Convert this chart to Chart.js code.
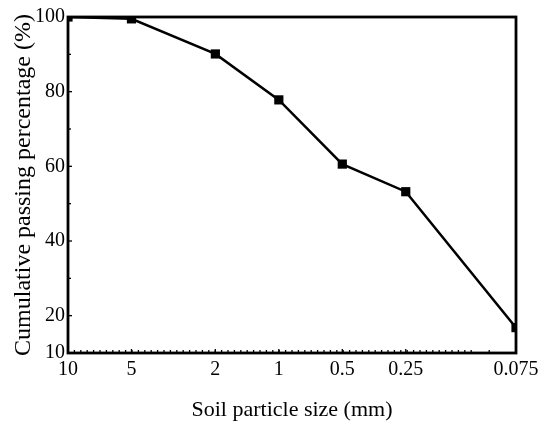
<!DOCTYPE html>
<html>
<head>
<meta charset="utf-8">
<script src="https://cdn.jsdelivr.net/npm/chart.js@4"></script>
<style>
html, body { margin: 0; padding: 0; background: #fff; }
#wrap { width: 550px; height: 429px; }
</style>
</head>
<body>
<div id="wrap"><canvas id="grafico" width="550" height="429"></canvas></div>
<script>
// particle size (mm) and cumulative passing (%)
var sizes = [10, 5, 2, 1, 0.5, 0.25, 0.075];
var passing = [100, 99.5, 90.1, 77.8, 60.6, 53.2, 16.8];
var xTicks = [10, 5, 2, 1, 0.5, 0.25, 0.075];
var yTicks = [10, 20, 40, 60, 80, 100];
var yMinor = [30, 50, 70, 90];

var pontos = [];
for (var i = 0; i < sizes.length; i++) {
    pontos.push({ x: sizes[i], y: passing[i] });
}

// frame + inward ticks
var moldura = {
    id: 'moldura',
    afterDraw: function (chart) {
        var ctx = chart.ctx;
        var a = chart.chartArea;
        var sy = chart.scales.y;
        ctx.save();
        ctx.strokeStyle = '#000';
        ctx.lineWidth = 1.3;
        for (var i = 0; i < yTicks.length; i++) {
            var py = sy.getPixelForValue(yTicks[i]);
            ctx.beginPath(); ctx.moveTo(a.left, py); ctx.lineTo(a.left + 4, py); ctx.stroke();
        }
        for (var j = 0; j < yMinor.length; j++) {
            var py2 = sy.getPixelForValue(yMinor[j]);
            ctx.beginPath(); ctx.moveTo(a.left, py2); ctx.lineTo(a.left + 3, py2); ctx.stroke();
        }
        // dotted row of minor ticks along bottom
        var px = a.left + 6.4;
        while (px < a.right - 50) {
            ctx.beginPath(); ctx.moveTo(px, a.bottom); ctx.lineTo(px, a.bottom - 3); ctx.stroke();
            px += 6.4;
        }
        while (px < a.right - 10) {
            ctx.beginPath(); ctx.moveTo(px, a.bottom); ctx.lineTo(px, a.bottom - 3); ctx.stroke();
            px += 18;
        }
        var sx = chart.scales.x;
        for (var k = 0; k < xTicks.length; k++) {
            var px2 = sx.getPixelForValue(xTicks[k]);
            ctx.beginPath(); ctx.moveTo(px2, a.bottom); ctx.lineTo(px2, a.bottom - 4); ctx.stroke();
        }
        ctx.lineWidth = 2.8;
        ctx.strokeRect(a.left, a.top, a.right - a.left, a.bottom - a.top);
        ctx.restore();
    }
};

var ctx = document.getElementById('grafico');

var grafico = new Chart(ctx, {
    type: 'line',
    data: {
        datasets: [{
            data: pontos,
            borderColor: '#000',
            borderWidth: 2.5,
            backgroundColor: '#000',
            pointStyle: 'rect',
            pointRadius: 6.5,
            pointBorderWidth: 0,
            pointBackgroundColor: '#000',
            tension: 0,
            clip: 0
        }]
    },
    options: {
        responsive: false,
        animation: false,
        devicePixelRatio: 1,
        layout: { padding: { top: 17, right: 34, left: 0, bottom: 0 } },
        plugins: {
            legend: { display: false },
            tooltip: { enabled: false }
        },
        scales: {
            x: {
                type: 'logarithmic',
                reverse: true,
                min: 0.075,
                max: 10,
                afterBuildTicks: function (scale) {
                    scale.ticks = xTicks.map(function (v) { return { value: v }; });
                },
                afterFit: function (scale) { scale.height = 76; },
                ticks: {
                    autoSkip: false,
                    maxRotation: 0,
                    color: '#000',
                    padding: 5,
                    font: { family: 'Liberation Serif', size: 20 },
                    callback: function (v) { return String(v); }
                },
                grid: { display: false, drawTicks: false },
                border: { display: false },
                title: {
                    display: true,
                    text: 'Soil particle size (mm)',
                    color: '#000',
                    font: { family: 'Liberation Serif', size: 22 },
                    padding: { top: 0, bottom: 6 }
                }
            },
            y: {
                min: 10,
                max: 100,
                afterBuildTicks: function (scale) {
                    scale.ticks = yTicks.map(function (v) { return { value: v }; });
                },
                afterFit: function (scale) { scale.width = 68; },
                ticks: {
                    color: '#000',
                    padding: 3,
                    font: { family: 'Liberation Serif', size: 20 }
                },
                grid: { display: false, drawTicks: false },
                border: { display: false },
                title: {
                    display: true,
                    text: 'Cumulative passing percentage (%)',
                    color: '#000',
                    font: { family: 'Liberation Serif', size: 24 },
                    padding: { top: 9, bottom: 0 }
                }
            }
        }
    },
    plugins: [moldura]
});
</script>
</body>
</html>
